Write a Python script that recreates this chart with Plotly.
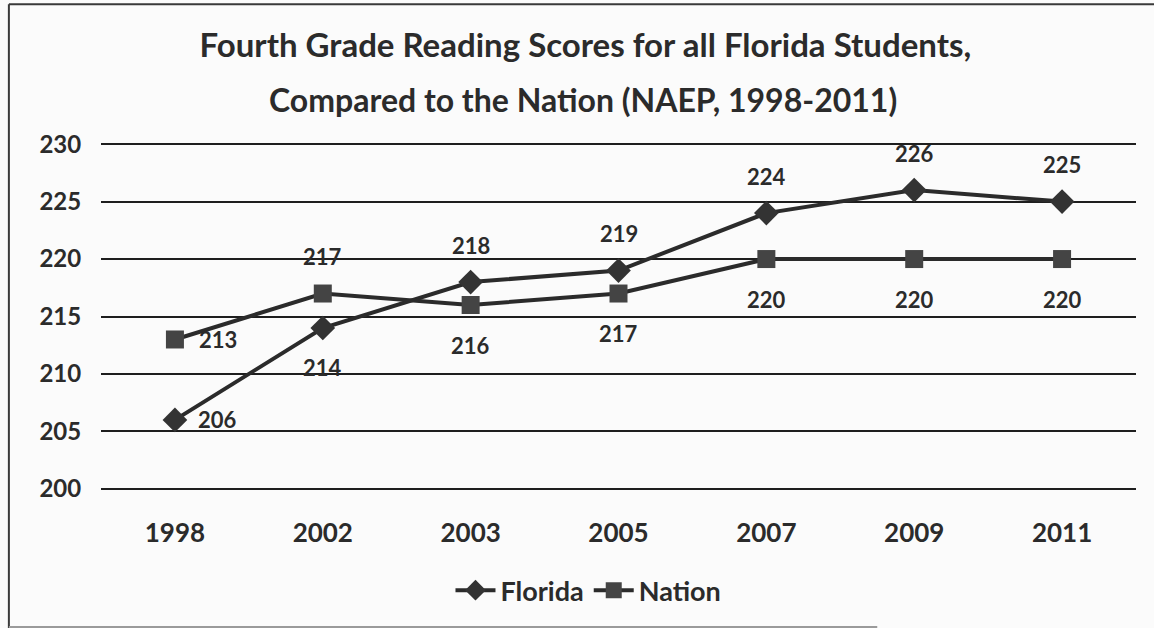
import plotly.graph_objects as go

years = ["1998", "2002", "2003", "2005", "2007", "2009", "2011"]
florida = [206, 214, 218, 219, 224, 226, 225]
nation = [213, 217, 216, 217, 220, 220, 220]
y_ticks = [200, 205, 210, 215, 220, 225, 230]

# where each data label sits relative to its point
florida_pos = ["right", "below", "above", "above", "above", "above", "above"]
nation_pos = ["right", "above", "below", "below", "below", "below", "below"]

INK = "#2b2b2b"
FONT = "Lato, Calibri, 'Open Sans', sans-serif"
BG = "#fbfbfb"

fig = go.Figure()
fig.add_trace(go.Scatter(
    x=years, y=florida, name="Florida", mode="lines+markers",
    line=dict(color=INK, width=4),
    marker=dict(symbol="diamond", size=19, color="#333333"),
))
fig.add_trace(go.Scatter(
    x=years, y=nation, name="Nation", mode="lines+markers",
    line=dict(color=INK, width=4),
    marker=dict(symbol="square", size=18, color="#444444"),
))

shift = {"right": (43, 0), "above": (0, 37), "below": (0, -40)}
annotations = []
for vals, pos in ((florida, florida_pos), (nation, nation_pos)):
    # category axis: annotate by category index so "1998" is not read as a number
    for i, (v, p) in enumerate(zip(vals, pos)):
        dx, dy = shift[p]
        annotations.append(dict(
            x=i, y=v, text=f"<b>{v}</b>", showarrow=False,
            xshift=dx, yshift=dy, font=dict(family=FONT, size=22, color=INK),
        ))

annotations.append(dict(
    xref="paper", yref="paper", x=0.466, y=1.124, showarrow=False,
    text="<b>Compared to the Nation (NAEP, 1998-2011)</b>",
    font=dict(family=FONT, size=32, color=INK), yanchor="middle",
))

frame = dict(color="#3a3a3a", width=2)
shapes = [
    dict(type="line", xref="paper", yref="paper", x0=-0.089, x1=-0.089, y0=-0.40, y1=1.40, line=frame),
    dict(type="line", xref="paper", yref="paper", x0=-0.089, x1=1.02, y0=1.40, y1=1.40, line=frame),
    dict(type="line", xref="paper", yref="paper", x0=-0.089, x1=0.75, y0=-0.395, y1=-0.395,
         line=dict(color="#9a9a9a", width=2)),
]

fig.update_layout(
    width=1154, height=628,
    margin=dict(l=101, r=18, t=143, b=138),
    paper_bgcolor=BG, plot_bgcolor=BG,
    font=dict(family=FONT, color=INK),
    title=dict(
        text="<b>Fourth Grade Reading Scores for all Florida Students,</b>",
        xref="paper", x=0.468, xanchor="center",
        yref="container", y=1 - 45 / 628, yanchor="middle",
        font=dict(family=FONT, size=33, color=INK),
    ),
    xaxis=dict(
        type="category", range=[-0.5, len(years) - 0.5],
        showgrid=False, zeroline=False, showline=False,
        ticks="outside", ticklen=20, tickcolor="rgba(0,0,0,0)",
        tickfont=dict(family=FONT, size=26, color=INK, weight="bold"),
    ),
    yaxis=dict(
        range=[199.9, 230.1], tickvals=y_ticks, showgrid=True,
        gridcolor="#1e1e1e", gridwidth=2, zeroline=False, showline=False,
        ticks="outside", ticklen=14, tickcolor="rgba(0,0,0,0)",
        tickfont=dict(family=FONT, size=24, color=INK, weight="bold"),
    ),
    legend=dict(
        orientation="h", x=0.471, xanchor="center", y=-0.29, yanchor="middle",
        font=dict(family=FONT, size=27, color=INK, weight="bold"),
        bgcolor="rgba(0,0,0,0)", itemwidth=40, tracegroupgap=0,
    ),
    annotations=annotations,
    shapes=shapes,
)

fig.write_html(
    "out.html",
    config={"displayModeBar": False},
    post_script="document.body.style.margin='0';",
)
